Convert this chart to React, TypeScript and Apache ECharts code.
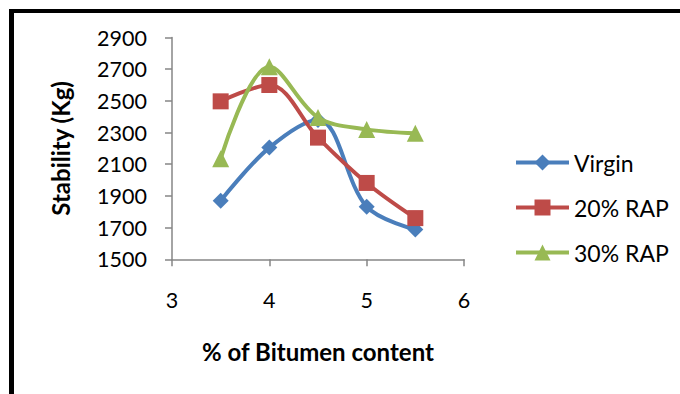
import React, { useEffect, useRef } from "react";
import * as echarts from "echarts";

const bitumen = [3.5, 4, 4.5, 5, 5.5];
const virgin = [1870, 2205, 2380, 1832, 1688];
const rap20 = [2497, 2600, 2268, 1982, 1760];
const rap30 = [2135, 2715, 2395, 2320, 2295];
const seriesNames = ["Virgin", "20% RAP", "30% RAP"];
const xTitle = "% of Bitumen content";
const yTitle = "Stability (Kg)";

const FONT = "Lato, 'Liberation Sans', sans-serif";

export default function App() {
  const ref = useRef<HTMLDivElement>(null);
  useEffect(() => {
    if (!ref.current) return;
    const chart = echarts.init(ref.current, null, { renderer: "svg" });
    const mk = (vals: number[]) => bitumen.map((x, i) => [x, vals[i]]);
    const colors = ["#4A7EBB", "#BE4B48", "#98B954"];
    const symbols = ["diamond", "rect", "triangle"];
    const sizes = [16, 16, 17];
    const data = [virgin, rap20, rap30];
    chart.setOption({
      animation: false,
      backgroundColor: "#ffffff",
      textStyle: { fontFamily: FONT },
      grid: { left: 172, right: 216, top: 37.5, bottom: 134.7, containLabel: false },
      xAxis: {
        type: "value",
        min: 3,
        max: 6,
        interval: 1,
        name: xTitle,
        nameLocation: "middle",
        nameGap: 80,
        nameTextStyle: { fontFamily: FONT, fontSize: 24, fontWeight: "bold", color: "#000" },
        axisLine: { show: true, lineStyle: { color: "#868686", width: 1.5 } },
        axisTick: { show: true, length: 7, lineStyle: { color: "#868686", width: 1.5 } },
        axisLabel: { margin: 30, fontFamily: FONT, fontSize: 21.5, color: "#000" },
        splitLine: { show: false },
      },
      yAxis: {
        type: "value",
        min: 1500,
        max: 2900,
        interval: 200,
        name: yTitle,
        nameLocation: "middle",
        nameGap: 100,
        nameTextStyle: { fontFamily: FONT, fontSize: 24, fontWeight: "bold", color: "#000" },
        axisLine: { show: true, lineStyle: { color: "#868686", width: 1.5 } },
        axisTick: { show: true, length: 7, lineStyle: { color: "#868686", width: 1.5 } },
        axisLabel: {
          margin: 25,
          fontFamily: FONT,
          fontSize: 21.5,
          color: "#000",
          formatter: (v: number) => String(v),
        },
        splitLine: { show: false },
      },
      legend: {
        orient: "vertical",
        left: 509,
        top: 146,
        itemWidth: 53,
        itemHeight: 20,
        itemGap: 22,
        lineStyle: { width: 4 },
        textStyle: { fontFamily: FONT, fontSize: 23, color: "#000" },
        data: seriesNames,
      },
      series: seriesNames.map((name, i) => ({
        name,
        type: "line",
        data: mk(data[i]),
        smooth: 0.35,
        symbol: symbols[i],
        symbolSize: sizes[i],
        lineStyle: { color: colors[i], width: 4 },
        itemStyle: { color: colors[i] },
        z: 2 + i,
      })),
      graphic: [
        { type: "rect", left: 9, top: 9, shape: { width: 5, height: 385 }, style: { fill: "#000" } },
        { type: "rect", left: 9, top: 9, shape: { width: 671, height: 4 }, style: { fill: "#000" } },
      ],
    });
    return () => chart.dispose();
  }, []);
  return (
    <div
      ref={ref}
      style={{ position: "absolute", left: 0, top: 0, width: 680, height: 394 }}
    />
  );
}
